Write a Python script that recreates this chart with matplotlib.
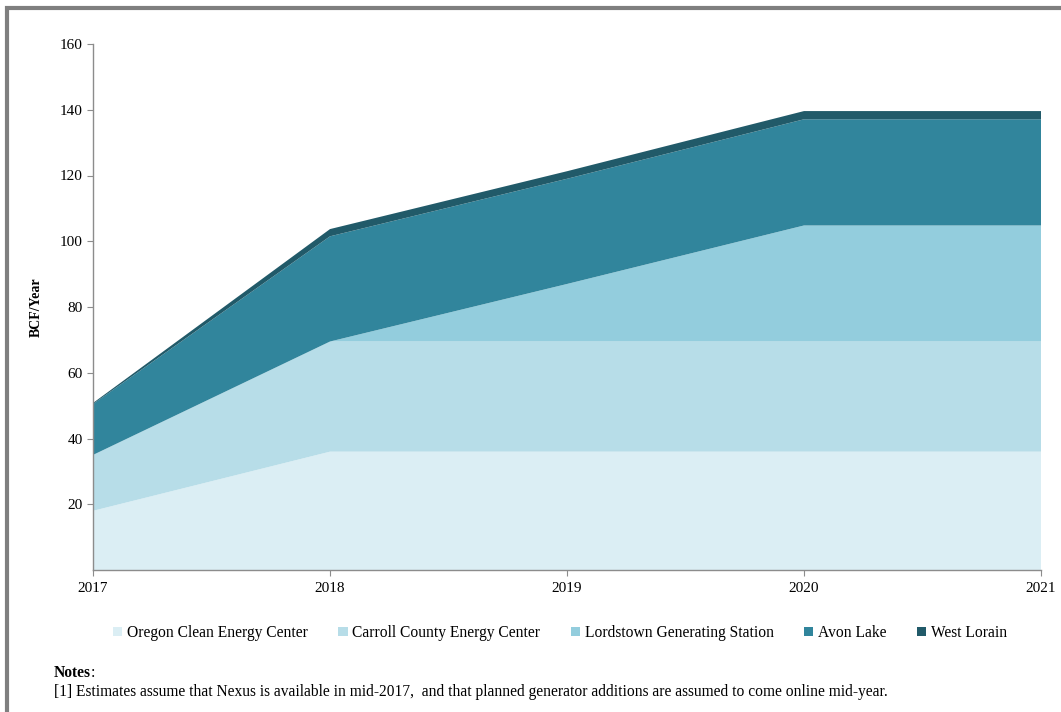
import numpy as np
import matplotlib.pyplot as plt
from matplotlib.patches import Patch, Rectangle

plt.rcParams['font.family'] = ['Liberation Serif', 'DejaVu Serif']

years = [2017, 2018, 2019, 2020, 2021]
plants = ['Oregon Clean Energy Center', 'Carroll County Energy Center',
          'Lordstown Generating Station', 'Avon Lake', 'West Lorain']
oregon = [18, 36, 36, 36, 36]
carroll = [17, 33.5, 33.5, 33.5, 33.5]
lordstown = [0, 0, 17.5, 35.3, 35.3]
avon = [15.5, 32, 32, 32.3, 32.3]
west_lorain = [0.3, 2.2, 2.3, 2.5, 2.5]
colors = ['#dbeef4', '#b7dde8', '#93cddd', '#31859c', '#215a69']

fig = plt.figure(figsize=(10.61, 7.12), dpi=100)
ax = fig.add_axes([93 / 1061, 1 - 570 / 712, (1041 - 93) / 1061, (570 - 44) / 712])

ax.stackplot(years, oregon, carroll, lordstown, avon, west_lorain,
             colors=colors, linewidth=0)

ax.set_xlim(2017, 2021)
ax.set_ylim(0, 160)
ax.set_xticks(years)
ax.set_yticks(np.arange(20, 161, 20))
for s in ['top', 'right']:
    ax.spines[s].set_visible(False)
for s in ['left', 'bottom']:
    ax.spines[s].set_color('#8c8c8c')
    ax.spines[s].set_linewidth(1)
ax.tick_params(colors='#8c8c8c', labelcolor='black', labelsize=11, length=4)
ax.tick_params(axis='x', pad=5)
ax.set_ylabel('BCF/Year', fontweight='bold', fontsize=10, labelpad=12)

handles = [Patch(facecolor=c, edgecolor='none') for c in colors]
fig.legend(handles, plants, loc='center', bbox_to_anchor=(560 / 1061, 1 - 633 / 712),
           ncol=5, frameon=False, fontsize=11.2, handlelength=0.6, handleheight=0.6,
           handletextpad=0.3, columnspacing=1.95)

fig.text(54 / 1061, 1 - 673 / 712, 'Notes', fontweight='bold', fontsize=11.2, va='center')
fig.text(91 / 1061, 1 - 673 / 712, ':', fontsize=11.2, va='center')
fig.text(54 / 1061, 1 - 692 / 712,
         '[1] Estimates assume that Nexus is available in mid-2017,  and that planned generator additions are assumed to come online mid-year.',
         fontsize=11.2, va='center')

fig.patches.append(Rectangle((7 / 1061, -0.1), 1.2, 1 + 0.1 - 8 / 712, transform=fig.transFigure,
                             fill=False, edgecolor='#7f7f7f', linewidth=3))

fig.savefig('out.png', dpi=100)
